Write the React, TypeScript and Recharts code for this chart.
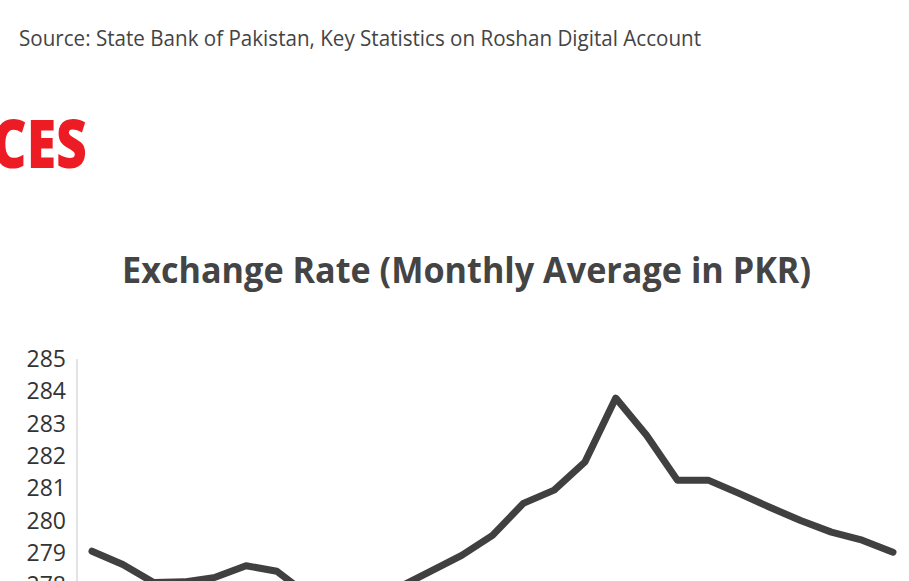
import * as React from 'react';
import { Line, LineChart, XAxis, YAxis } from 'recharts';

// Monthly average PKR/USD
const months = [
  'Feb-24', 'Mar-24', 'Apr-24', 'May-24', 'Jun-24', 'Jul-24', 'Aug-24', 'Sep-24', 'Oct-24',
  'Nov-24', 'Dec-24', 'Jan-25', 'Feb-25', 'Mar-25', 'Apr-25', 'May-25', 'Jun-25', 'Jul-25',
  'Aug-25', 'Sep-25', 'Oct-25', 'Nov-25', 'Dec-25', 'Jan-26', 'Feb-26', 'Mar-26', 'Apr-26',
];
const rates = [
  279.05, 278.64, 278.08, 278.1, 278.24, 278.6, 278.43, 277.7, 277.6,
  277.65, 277.95, 278.43, 278.92, 279.54, 280.53, 280.94, 281.81, 283.79,
  282.64, 281.25, 281.25, 280.84, 280.41, 280.0, 279.64, 279.39, 279.02,
];
const yTicks = [275, 276, 277, 278, 279, 280, 281, 282, 283, 284, 285];

const sourceText = 'Source: State Bank of Pakistan, Key Statistics on Roshan Digital Account';
const headingTail = 'CES';
const chartTitle = 'Exchange Rate (Monthly Average in PKR)';

const data = months.map((m, i) => ({ month: m, rate: rates[i] }));

const FONT = '"Open Sans", "Noto Sans", sans-serif';

export default function App() {
  return (
    <div
      style={{
        position: 'fixed',
        top: 0,
        left: 0,
        width: 909,
        height: 581,
        overflow: 'hidden',
        background: '#fff',
        fontFamily: FONT,
      }}
    >
      <svg width={909} height={320} style={{ position: 'absolute', top: 0, left: 0 }}>
        <text x={19} y={46} fontSize={21} fill='#444' textLength={682} lengthAdjust='spacingAndGlyphs'>
          {sourceText}
        </text>
        <text
          x={-8}
          y={168}
          fontSize={67}
          fontWeight={800}
          fill='#ed1c24'
          textLength={95}
          lengthAdjust='spacingAndGlyphs'
        >
          {headingTail}
        </text>
        <text
          x={122}
          y={283}
          fontSize={36}
          fontWeight={700}
          fill='#444'
          textLength={689}
          lengthAdjust='spacingAndGlyphs'
        >
          {chartTitle}
        </text>
      </svg>
      <div style={{ position: 'absolute', top: 0, left: 0 }}>
        <LineChart
          width={909}
          height={700}
          data={data}
          margin={{ top: 359, right: 10, bottom: 18, left: 0 }}
        >
          <XAxis hide dataKey='month' type='category' padding={{ left: 15, right: 6 }} />
          <YAxis
            type='number'
            domain={[275, 285]}
            ticks={yTicks}
            interval={0}
            width={77}
            tickSize={0}
            tickMargin={11}
            tickLine={false}
            axisLine={{ stroke: '#e3e3e3', strokeWidth: 2 }}
            tick={{ fontSize: 23, fill: '#333', fontFamily: FONT }}
          />
          <Line
            type='linear'
            dataKey='rate'
            stroke='#404040'
            strokeWidth={7}
            dot={false}
            strokeLinejoin='round'
            strokeLinecap='round'
            isAnimationActive={false}
          />
        </LineChart>
      </div>
    </div>
  );
}
